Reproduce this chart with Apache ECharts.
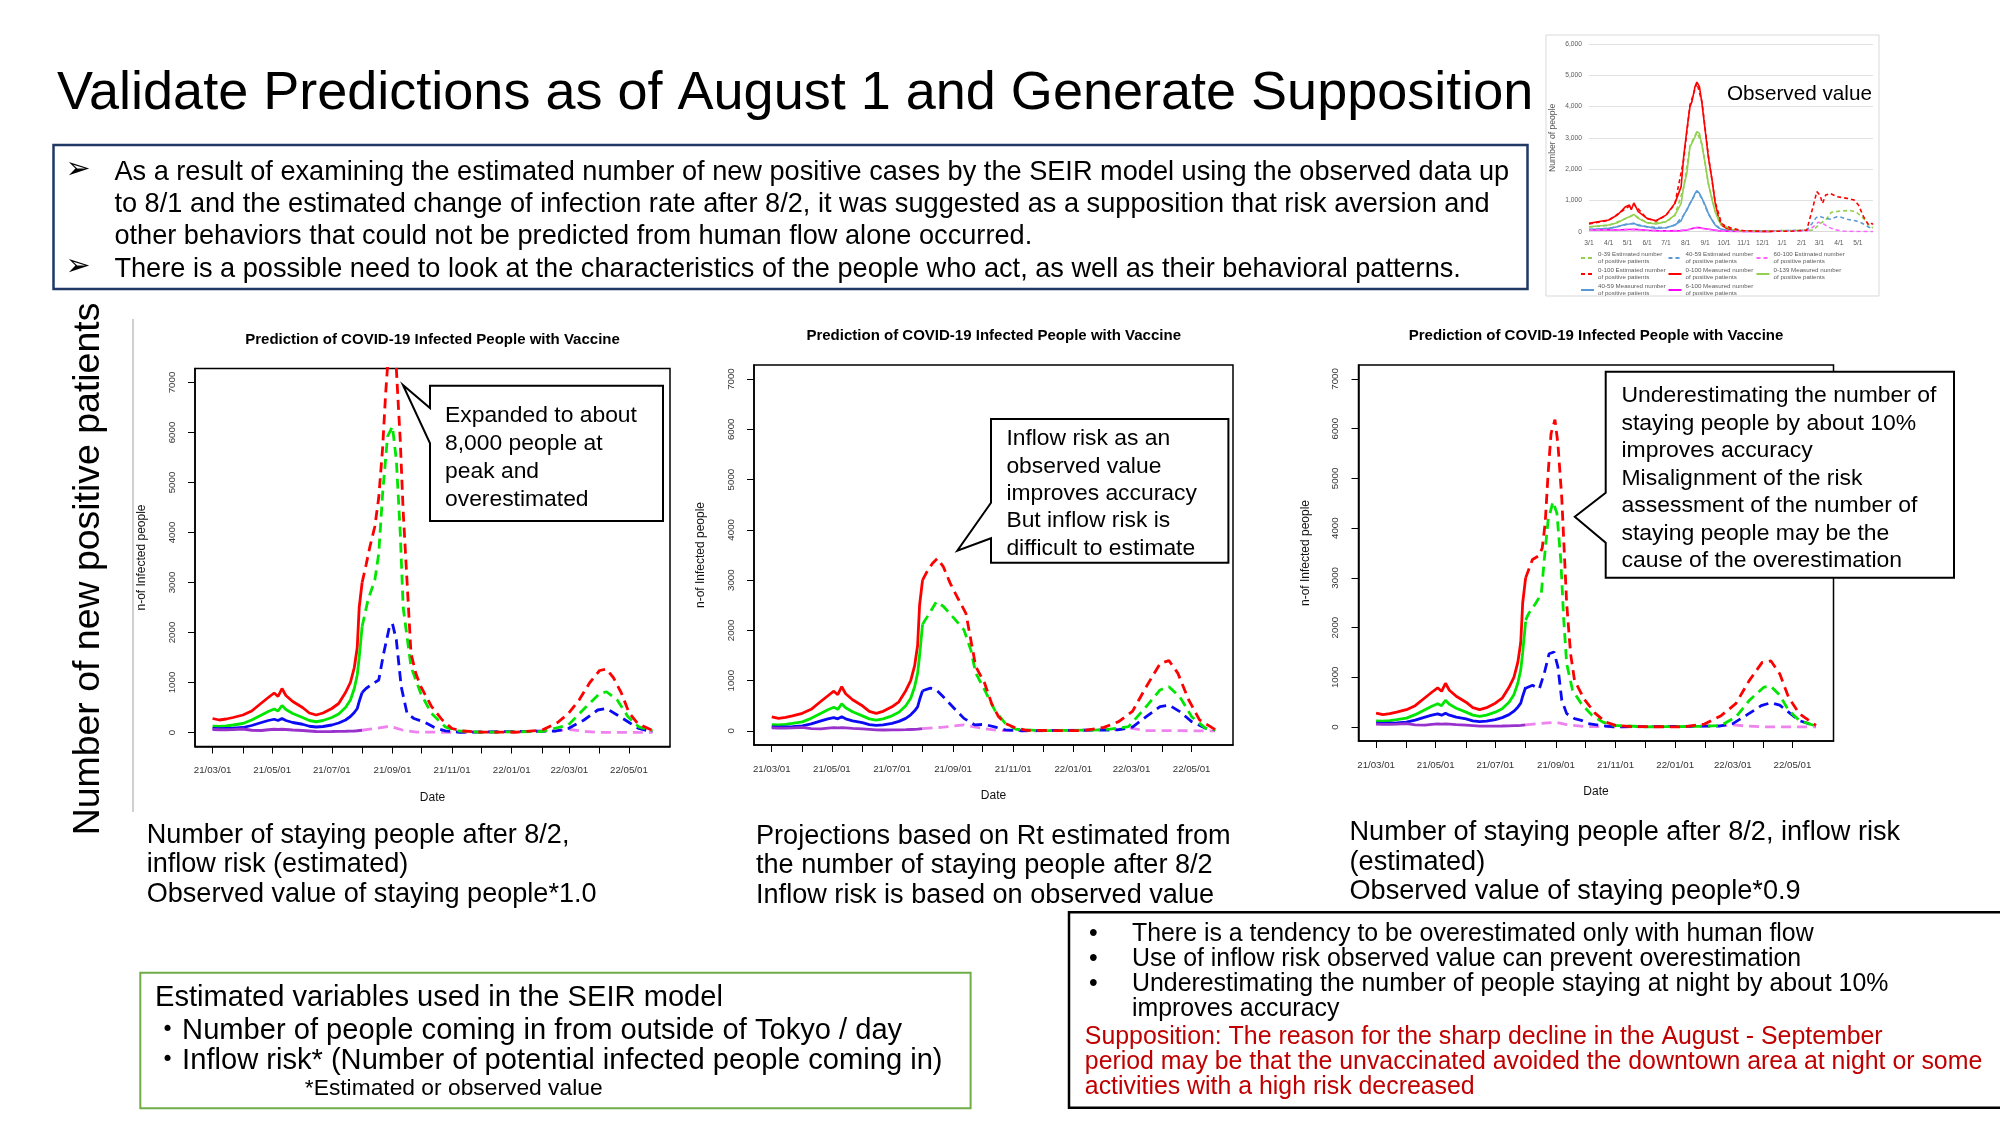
<!DOCTYPE html>
<html><head><meta charset="utf-8">
<script src="https://cdn.jsdelivr.net/npm/echarts@6/dist/echarts.min.js"></script>
<style>html,body{margin:0;padding:0;background:#fff}#c{width:2000px;height:1125px}</style>
</head><body><div id="c"></div>
<script>
const FONT = '"Liberation Sans", Arial, Helvetica, sans-serif';

// ---------------- DATA ----------------
const monthTicks = ['2021-03-01','2021-04-01','2021-05-01','2021-06-01','2021-07-01','2021-08-01','2021-09-01','2021-10-01','2021-11-01','2021-12-01','2022-01-01','2022-02-01','2022-03-01','2022-04-01','2022-05-01'];
const dateLabelTicks = ['2021-03-01','2021-05-01','2021-07-01','2021-09-01','2021-11-01','2022-01-01','2022-03-01','2022-05-01'];
const yTicks = [0,1000,2000,3000,4000,5000,6000,7000];

// observed (common to the three prediction charts)
const obsDates = ['2021-03-01','2021-03-08','2021-03-15','2021-03-22','2021-04-01','2021-04-10','2021-04-20','2021-04-27','2021-05-03','2021-05-07','2021-05-11','2021-05-15','2021-05-22','2021-06-01','2021-06-08','2021-06-15','2021-06-22','2021-07-01','2021-07-08','2021-07-15','2021-07-20','2021-07-24','2021-07-27','2021-07-29','2021-08-01'];
const obsTotal    = [280,250,270,300,350,430,590,700,790,720,880,740,620,500,390,350,390,480,580,800,1000,1300,1700,2500,3000];
const obs0to39    = [125,120,130,150,180,250,350,420,470,430,540,460,380,300,240,215,240,300,370,500,650,880,1150,1500,2120];
const obs40to59   = [80,75,80,85,100,140,200,240,265,240,280,240,200,165,125,110,120,150,190,250,320,400,480,620,800];
const obs60to100  = [60,55,55,60,70,45,40,55,65,60,65,60,50,40,30,20,18,20,22,25,28,30,35,40,45];

// chart 1: staying people *1.0, inflow risk estimated
const c1EstTotal = [['2021-08-01',3000],['2021-08-05',3350],['2021-08-09',3720],['2021-08-14',4120],['2021-08-18',4700],['2021-08-22',5700],['2021-08-25',6760],['2021-08-28',7600],['2021-09-01',8000],['2021-09-05',7280],['2021-09-09',5840],['2021-09-12',4420],['2021-09-16',3000],['2021-09-20',1580],['2021-09-25',1180],['2021-09-30',920],['2021-10-11',520],['2021-10-22',250],['2021-11-01',80],['2021-11-12',30],['2021-11-30',10],['2022-01-05',5],['2022-02-01',45],['2022-02-17',200],['2022-02-28',380],['2022-03-11',650],['2022-03-22',1000],['2022-04-01',1240],['2022-04-08',1270],['2022-04-15',1100],['2022-04-23',800],['2022-05-01',400],['2022-05-10',180],['2022-05-25',40]];
const c1Est0to39 = [['2021-08-01',2120],['2021-08-07',2650],['2021-08-14',3050],['2021-08-18',3580],['2021-08-22',4790],['2021-08-27',5920],['2021-09-01',6120],['2021-09-05',5450],['2021-09-09',3990],['2021-09-12',2500],['2021-09-20',1315],['2021-09-30',780],['2021-10-11',380],['2021-10-25',113],['2021-11-05',33],['2021-12-01',5],['2022-02-01',20],['2022-02-28',150],['2022-03-18',510],['2022-04-01',780],['2022-04-08',815],['2022-04-19',650],['2022-04-30',315],['2022-05-11',113],['2022-05-25',33]];
const c1Est40to59 = [['2021-08-01',800],['2021-08-05',880],['2021-08-10',950],['2021-08-18',1050],['2021-08-23',1580],['2021-08-29',2120],['2021-09-01',2180],['2021-09-05',1850],['2021-09-10',915],['2021-09-16',380],['2021-09-23',280],['2021-10-03',215],['2021-10-14',100],['2021-10-25',33],['2021-11-10',5],['2022-02-15',30],['2022-02-28',80],['2022-03-16',250],['2022-03-30',450],['2022-04-08',480],['2022-04-19',350],['2022-04-30',215],['2022-05-11',80],['2022-05-25',10]];
const c1Est60to100 = [['2021-08-01',45],['2021-08-14',80],['2021-08-29',125],['2021-09-12',45],['2021-09-26',7],['2021-12-01',2],['2022-02-15',30],['2022-03-01',60],['2022-03-18',20],['2022-04-01',2],['2022-05-25',1]];

// chart 2: Rt from staying people, inflow risk observed
const c2EstTotal = [['2021-08-01',3000],['2021-08-05',3150],['2021-08-11',3330],['2021-08-16',3430],['2021-08-22',3270],['2021-08-29',2940],['2021-09-05',2670],['2021-09-14',2340],['2021-09-19',1810],['2021-09-24',1280],['2021-10-03',950],['2021-10-10',550],['2021-10-17',285],['2021-10-24',150],['2021-11-04',55],['2021-11-15',10],['2022-01-10',5],['2022-02-01',70],['2022-02-16',185],['2022-03-02',390],['2022-03-16',880],['2022-03-30',1340],['2022-04-08',1400],['2022-04-17',1150],['2022-04-28',620],['2022-05-09',220],['2022-05-25',25]];
const c2Est0to39 = [['2021-08-01',2120],['2021-08-08',2340],['2021-08-15',2570],['2021-08-22',2480],['2021-09-02',2240],['2021-09-12',2010],['2021-09-19',1610],['2021-09-24',1150],['2021-10-03',815],['2021-10-14',385],['2021-10-24',150],['2021-11-04',33],['2021-12-01',5],['2022-02-01',20],['2022-02-26',85],['2022-03-16',485],['2022-03-30',815],['2022-04-08',880],['2022-04-19',680],['2022-05-01',285],['2022-05-15',55],['2022-05-25',20]];
const c2Est40to59 = [['2021-08-01',800],['2021-08-09',850],['2021-08-15',815],['2021-08-22',680],['2021-09-02',450],['2021-09-12',250],['2021-09-23',120],['2021-10-03',130],['2021-10-14',75],['2021-10-24',20],['2021-11-10',3],['2022-02-15',20],['2022-03-02',75],['2022-03-16',285],['2022-03-30',485],['2022-04-08',515],['2022-04-19',385],['2022-05-01',185],['2022-05-15',55],['2022-05-25',20]];
const c2Est60to100 = [['2021-08-01',45],['2021-08-22',75],['2021-09-12',120],['2021-09-30',55],['2021-10-17',7],['2021-12-01',2],['2022-02-15',30],['2022-02-28',55],['2022-03-16',7],['2022-05-25',1]];

// chart 3: staying people *0.9, inflow risk estimated
const c3EstTotal = [['2021-08-01',3000],['2021-08-08',3370],['2021-08-15',3450],['2021-08-18',3600],['2021-08-21',4100],['2021-08-24',5100],['2021-08-27',5900],['2021-08-31',6180],['2021-09-03',5700],['2021-09-07',4600],['2021-09-12',2480],['2021-09-16',1475],['2021-09-20',940],['2021-09-30',560],['2021-10-11',280],['2021-10-22',100],['2021-11-01',35],['2021-11-20',8],['2022-01-10',5],['2022-01-31',60],['2022-02-17',230],['2022-03-04',470],['2022-03-18',940],['2022-03-31',1300],['2022-04-09',1330],['2022-04-18',1070],['2022-04-27',600],['2022-05-08',270],['2022-05-25',35]];
const c3Est0to39 = [['2021-08-01',2150],['2021-08-04',2280],['2021-08-11',2480],['2021-08-17',2680],['2021-08-20',3350],['2021-08-24',4160],['2021-08-29',4530],['2021-09-02',4300],['2021-09-06',3350],['2021-09-09',2150],['2021-09-12',1275],['2021-09-18',740],['2021-09-27',470],['2021-10-08',235],['2021-10-19',100],['2021-10-30',35],['2021-12-01',5],['2022-02-01',15],['2022-02-17',35],['2022-03-04',200],['2022-03-18',540],['2022-04-02',805],['2022-04-09',820],['2022-04-18',640],['2022-04-27',335],['2022-05-08',135],['2022-05-25',20]];
const c3Est40to59 = [['2021-08-01',780],['2021-08-08',840],['2021-08-15',770],['2021-08-20',1075],['2021-08-25',1475],['2021-08-30',1510],['2021-09-03',1210],['2021-09-07',540],['2021-09-12',270],['2021-09-20',170],['2021-09-27',135],['2021-10-04',70],['2021-10-15',35],['2021-10-30',5],['2022-02-15',20],['2022-03-01',70],['2022-03-15',240],['2022-03-30',430],['2022-04-09',490],['2022-04-18',440],['2022-04-27',300],['2022-05-08',130],['2022-05-25',20]];
const c3Est60to100 = [['2021-08-01',45],['2021-08-20',80],['2021-09-01',95],['2021-09-12',50],['2021-10-01',10],['2021-12-01',2],['2022-02-15',25],['2022-03-01',45],['2022-03-15',20],['2022-04-01',5],['2022-05-25',2]];

// small "Observed value" chart
const smallYTicks = [0,1000,2000,3000,4000,5000,6000];
const smallMeasDates = ['2021-03-01','2021-03-15','2021-04-01','2021-04-15','2021-04-28','2021-05-04','2021-05-07','2021-05-11','2021-05-18','2021-06-01','2021-06-15','2021-07-01','2021-07-15','2021-07-25','2021-07-29','2021-08-03','2021-08-08','2021-08-11','2021-08-14','2021-08-16','2021-08-19','2021-08-23','2021-08-27','2021-09-01','2021-09-06','2021-09-12','2021-09-17','2021-09-22','2021-09-27','2021-10-05','2021-10-15','2021-10-26','2021-11-15','2021-12-15'];
const smallMeasTotal   = [266,320,373,533,800,850,700,920,640,426,350,530,906,1440,2400,3250,4000,4150,4100,4640,4780,4640,4100,3250,2400,1650,906,480,213,107,53,25,15,10];
const smallMeas0to39   = [160,180,213,288,426,480,426,554,426,288,245,320,533,906,1440,1865,2720,2820,2820,3040,3200,3145,2770,2185,1545,1012,640,373,213,107,53,30,15,8];
const smallMeas40to59  = [75,85,107,160,235,245,224,267,200,160,107,128,213,350,533,690,906,1012,1120,1225,1310,1225,1066,853,586,373,213,128,75,43,21,15,8,5];
const smallMeas60to100 = [53,55,60,55,65,70,68,75,65,45,35,25,25,35,45,55,80,100,115,125,135,130,110,95,80,60,45,30,20,12,8,5,3,2];
const smallEstTotal = [['2021-03-01',250],['2021-04-01',360],['2021-05-01',780],['2021-05-11',880],['2021-06-01',420],['2021-06-15',340],['2021-07-01',520],['2021-07-15',880],['2021-07-29',2300],['2021-08-08',4050],['2021-08-19',4750],['2021-08-27',4150],['2021-09-06',2450],['2021-09-17',950],['2021-09-27',260],['2021-10-05',170],['2021-10-15',100],['2021-11-01',30],['2021-12-01',10],['2022-01-15',15],['2022-02-09',50],['2022-02-19',800],['2022-02-25',1280],['2022-03-02',1170],['2022-03-06',906],['2022-03-11',1170],['2022-03-18',1225],['2022-03-29',1120],['2022-04-14',1066],['2022-04-25',1013],['2022-05-02',853],['2022-05-10',480],['2022-05-18',213],['2022-05-23',267],['2022-05-25',230]];
const smallEst0to39 = [['2021-03-01',150],['2021-04-01',200],['2021-05-01',440],['2021-05-11',540],['2021-06-01',280],['2021-07-01',310],['2021-07-15',520],['2021-07-29',1400],['2021-08-08',2750],['2021-08-19',3180],['2021-08-27',2800],['2021-09-06',1550],['2021-09-17',650],['2021-09-27',220],['2021-10-15',60],['2021-11-01',15],['2022-02-19',50],['2022-03-02',250],['2022-03-12',400],['2022-03-20',620],['2022-04-03',660],['2022-04-19',680],['2022-04-29',620],['2022-05-10',420],['2022-05-20',180],['2022-05-25',120]];
const smallEst40to59 = [['2021-03-01',70],['2021-04-01',100],['2021-05-01',240],['2021-05-11',260],['2021-06-01',155],['2021-07-01',125],['2021-07-15',210],['2021-07-29',520],['2021-08-08',900],['2021-08-19',1300],['2021-08-27',1060],['2021-09-06',580],['2021-09-17',210],['2021-09-27',75],['2021-10-15',20],['2021-11-01',8],['2022-02-09',50],['2022-02-17',250],['2022-02-24',450],['2022-03-01',500],['2022-03-07',450],['2022-03-18',400],['2022-03-29',480],['2022-04-03',470],['2022-04-14',400],['2022-04-27',350],['2022-05-07',280],['2022-05-18',150],['2022-05-25',90]];
const smallEst60to100 = [['2021-03-01',50],['2021-05-01',70],['2021-06-01',45],['2021-07-01',25],['2021-08-01',50],['2021-08-19',130],['2021-09-06',80],['2021-09-27',20],['2021-11-01',3],['2022-02-09',20],['2022-02-19',150],['2022-02-27',300],['2022-03-06',270],['2022-03-15',150],['2022-03-26',60],['2022-04-08',20],['2022-04-29',5],['2022-05-25',3]];
const smallLegendNames = ['0-39 Estimated number of positive patients','40-59 Estimated number of positive patients','60-100 Estimated number of positive patients','0-100 Estimated number of positive patients','0-100 Measured number of positive patients','0-139 Measured number of positive patients','40-59 Measured number of positive patients','6-100 Measured number of positive patients'];

// ---------------- helpers ----------------
const BASE = Date.UTC(2021, 2, 1);
function day(s){ const p = s.split('-').map(Number); return (Date.UTC(p[0], p[1]-1, p[2]) - BASE) / 86400000; }
function fromDay(v){ return new Date(BASE + Math.round(v) * 86400000); }
function pad(n){ return (n < 10 ? '0' : '') + n; }
function fmtMain(v){ const d = fromDay(v); return pad(d.getUTCFullYear() % 100) + '/' + pad(d.getUTCMonth()+1) + '/' + pad(d.getUTCDate()); }
function fmtSmall(v){ const d = fromDay(v); return (d.getUTCMonth()+1) + '/' + d.getUTCDate(); }
const pairs = arr => arr.map(p => [day(p[0]), p[1]]);
const zipObs = (dates, vals) => dates.map((d, i) => [day(d), vals[i]]);

const cv = document.createElement('canvas').getContext('2d');
function fit(text, target, weight, family){
  cv.font = (weight || 'normal') + ' 100px ' + (family || FONT);
  return 100 * target / cv.measureText(text).width;
}

const monthDays = monthTicks.map(day);
const labelDays = dateLabelTicks.map(day);

// ---------------- layout ----------------
const grids = [
  {left: 195, top: 368.5, width: 475, height: 378},
  {left: 754, top: 365, width: 479, height: 380},
  {left: 1358.5, top: 365, width: 475, height: 376},
  {left: 1589, top: 44, width: 284, height: 187.7}
];

function mainX(gi){
  return {gridIndex: gi, type: 'value', min: -18, max: 468,
    axisLine: {show: true, onZero: false, lineStyle: {color: '#000', width: 1.5}},
    axisTick: {show: true, inside: false, length: 7, customValues: monthDays, lineStyle: {color: '#000', width: 1}},
    axisLabel: {customValues: labelDays, formatter: fmtMain, fontSize: 9.7, color: '#333', margin: 19, fontFamily: FONT},
    splitLine: {show: false},
    name: 'Date', nameLocation: 'middle', nameGap: 45,
    nameTextStyle: {fontSize: 12, color: '#111', fontFamily: FONT}};
}
function mainY(gi){
  return {gridIndex: gi, type: 'value', min: -280, max: 7280,
    axisLine: {show: true, onZero: false, lineStyle: {color: '#000', width: 1.5}},
    axisTick: {show: true, inside: false, length: 7, customValues: yTicks, lineStyle: {color: '#000', width: 1}},
    axisLabel: {customValues: yTicks, formatter: v => String(v), rotate: 90, margin: 18, fontSize: 9.7, color: '#333', fontFamily: FONT},
    splitLine: {show: false},
    name: 'n-of Infected people', nameLocation: 'middle', nameGap: 47, nameRotate: 90,
    nameTextStyle: {fontSize: 12, color: '#111', fontFamily: FONT}};
}

const COL = {red: '#FF0000', green: '#00E600', blue: '#0A0AF5', purple: '#9932CC', violet: '#EE82EE'};
function ln(name, data, gi, color, width, dash, z){
  return {name, type: 'line', xAxisIndex: gi, yAxisIndex: gi, data, symbol: 'none', showSymbol: false,
    silent: true, animation: false, z: z || 2, clip: true,
    lineStyle: {color, width, type: dash || 'solid'}, itemStyle: {color}};
}

const series = [];
const estSets = [
  [c1EstTotal, c1Est0to39, c1Est40to59, c1Est60to100],
  [c2EstTotal, c2Est0to39, c2Est40to59, c2Est60to100],
  [c3EstTotal, c3Est0to39, c3Est40to59, c3Est60to100]
];
const DASH = [10, 6];
for (let g = 0; g < 3; g++){
  series.push(ln('c'+g+'-obs-total', zipObs(obsDates, obsTotal), g, COL.red, 2.8));
  series.push(ln('c'+g+'-obs-0-39', zipObs(obsDates, obs0to39), g, COL.green, 2.8));
  series.push(ln('c'+g+'-obs-40-59', zipObs(obsDates, obs40to59), g, COL.blue, 2.8));
  series.push(ln('c'+g+'-obs-60-100', zipObs(obsDates, obs60to100), g, COL.purple, 2.8));
  const e = estSets[g];
  series.push(ln('c'+g+'-est-60-100', pairs(e[3]), g, COL.violet, 2.8, DASH, 3));
  series.push(ln('c'+g+'-est-40-59', pairs(e[2]), g, COL.blue, 2.8, DASH, 3));
  series.push(ln('c'+g+'-est-0-39', pairs(e[1]), g, COL.green, 2.8, DASH, 3));
  series.push(ln('c'+g+'-est-total', pairs(e[0]), g, COL.red, 2.8, DASH, 3));
}
// small chart
const SC = {green: '#92D050', blue: '#5B9BD5', pink: '#FF66FF', red: '#FF0000', magenta: '#FF00FF'};
const SD = [4, 3];
series.push(ln(smallLegendNames[6], zipObs(smallMeasDates, smallMeas40to59), 3, SC.blue, 1.6));
series.push(ln(smallLegendNames[7], zipObs(smallMeasDates, smallMeas60to100), 3, SC.magenta, 1.6));
series.push(ln(smallLegendNames[5], zipObs(smallMeasDates, smallMeas0to39), 3, SC.green, 1.6));
series.push(ln(smallLegendNames[4], zipObs(smallMeasDates, smallMeasTotal), 3, SC.red, 1.6));
series.push(ln(smallLegendNames[0], pairs(smallEst0to39), 3, SC.green, 1.6, SD, 3));
series.push(ln(smallLegendNames[1], pairs(smallEst40to59), 3, SC.blue, 1.6, SD, 3));
series.push(ln(smallLegendNames[2], pairs(smallEst60to100), 3, SC.pink, 1.6, SD, 3));
series.push(ln(smallLegendNames[3], pairs(smallEstTotal), 3, SC.red, 1.6, SD, 3));

// legends for the small chart (3 x 3 layout)
const legPos = [[1580,251.4],[1667.5,251.4],[1755.5,251.4],[1580,267.4],[1667.5,267.4],[1755.5,267.4],[1580,283.4],[1667.5,283.4]];
const legends = smallLegendNames.map((n, i) => ({
  data: [n], left: legPos[i][0], top: legPos[i][1], padding: 0, itemWidth: 13, itemHeight: 6, itemGap: 0,
  selectedMode: false, formatter: s => s.replace(' of positive', '\nof positive'),
  itemStyle: {opacity: 0},
  textStyle: {fontSize: 6.2, lineHeight: 6.6, color: '#595959', fontFamily: FONT, padding: [0,0,0,-1]}
}));

// ---------------- slide graphics ----------------
const G = [];
const DY = 2.5; // visual centring of text lines
function T(x, y, text, size, o){
  o = o || {};
  const rot = o.rotation || 0;
  G.push({type: 'text', x: rot ? x : x, y: rot ? y : y + DY, rotation: rot, z: o.z || 60, silent: true,
    style: {text, x: 0, y: 0, fill: o.color || '#000', fontSize: size, fontFamily: o.family || FONT,
      fontWeight: o.weight || 'normal', textAlign: o.align || 'left', align: o.align || 'left',
      textVerticalAlign: 'middle', verticalAlign: 'middle'}});
}
function L(x, y0, lh, lines, size, o){ lines.forEach((s, i) => T(x, y0 + i*lh, s, size, o)); }
function rect(x, y, w, h, stroke, lw, z, fill){
  G.push({type: 'rect', z: z || 40, silent: true, shape: {x, y, width: w, height: h},
    style: {fill: fill || 'none', stroke, lineWidth: lw}});
}
function poly(points, z){
  G.push({type: 'polygon', z: z || 50, silent: true, shape: {points},
    style: {fill: '#fff', stroke: '#000', lineWidth: 2}});
}

// Title
const titleText = 'Validate Predictions as of August 1 and Generate Supposition';
T(57, 92, titleText, fit(titleText, 1477));

// Blue summary box
rect(53.5, 145, 1474, 144, '#1F3864', 2.5);
const blue = ['As a result of examining the estimated number of new positive cases by the SEIR model using the observed data up',
  'to 8/1 and the estimated change of infection rate after 8/2, it was suggested as a supposition that risk aversion and',
  'other behaviors that could not be predicted from human flow alone occurred.',
  'There is a possible need to look at the characteristics of the people who act, as well as their behavioral patterns.'];
const blueSize = fit(blue[0], 1395);
L(114.4, 170, 32.2, blue, blueSize);
T(78, 168, '\u27A2', 30, {align: 'center', family: '"DejaVu Sans", sans-serif'});
T(78, 264.7, '\u27A2', 30, {align: 'center', family: '"DejaVu Sans", sans-serif'});

// Small chart frame + annotation
rect(1546, 35, 333, 261, '#d9d9d9', 1, 1);
T(1727, 92, 'Observed value', fit('Observed value', 145));

// Big vertical label and thin line
T(89, 569, 'Number of new positive patients', fit('Number of new positive patients', 533), {rotation: Math.PI/2, align: 'center'});
G.push({type: 'line', z: 1, silent: true, shape: {x1: 133, y1: 319, x2: 133, y2: 812}, style: {stroke: '#c0c0c0', lineWidth: 1.5}});

// Chart titles
const ct = 'Prediction of COVID-19 Infected People with Vaccine';
const ctSize = fit(ct, 375, 'bold');
T(432.5, 337, ct, ctSize, {align: 'center', weight: 'bold'});
T(993.7, 333, ct, ctSize, {align: 'center', weight: 'bold'});
T(1596, 333, ct, ctSize, {align: 'center', weight: 'bold'});

// Callouts
poly([[430,385.7],[663,385.7],[663,521],[430,521],[430,443.3],[402.9,385],[430,408]]);
L(445, 413.3, 27.8, ['Expanded to about','8,000 people at','peak and','overestimated'], fit('Expanded to about', 192));
poly([[991,419],[1228.4,419],[1228.4,562.7],[991,562.7],[991,538.3],[957.3,550.7],[991,502.7]]);
L(1006.4, 436.7, 27.3, ['Inflow risk as an','observed value','improves accuracy','But inflow risk is','difficult to estimate'], fit('improves accuracy', 190.5));
poly([[1605.7,371.7],[1954,371.7],[1954,577.7],[1605.7,577.7],[1605.7,542.7],[1574.8,516.7],[1605.7,492.7]]);
L(1621.5, 393.3, 27.5, ['Underestimating the number of','staying people by about 10%','improves accuracy','Misalignment of the risk','assessment of the number of','staying people may be the','cause of the overestimation'], fit('Underestimating the number of', 315));

// Captions
L(146.7, 833, 29.3, ['Number of staying people after 8/2,','inflow risk (estimated)','Observed value of staying people*1.0'], fit('Observed value of staying people*1.0', 450));
L(756, 834, 29.3, ['Projections based on Rt estimated from','the number of staying people after 8/2','Inflow risk is based on observed value'], fit('Projections based on Rt estimated from', 475));
L(1349.5, 830.5, 29.3, ['Number of staying people after 8/2, inflow risk','(estimated)','Observed value of staying people*0.9'], fit('Number of staying people after 8/2, inflow risk', 551));

// Green box
rect(140.3, 972.7, 830.3, 135.6, '#70AD47', 2);
const gSize = fit('Estimated variables used in the SEIR model', 568);
T(155, 995, 'Estimated variables used in the SEIR model', gSize);
T(153, 1028.3, '\u30FBNumber of people coming in from outside of Tokyo / day', gSize, {family: FONT + ', "Noto Sans CJK JP"'});
T(153, 1058.3, '\u30FBInflow risk* (Number of potential infected people coming in)', gSize, {family: FONT + ', "Noto Sans CJK JP"'});
T(304.8, 1086.7, '*Estimated or observed value', fit('*Estimated or observed value', 298));

// Black conclusions box
rect(1069, 912.3, 960, 195.4, '#000', 2.5);
const redLines = ['Supposition: The reason for the sharp decline in the August - September',
  'period may be that the unvaccinated avoided the downtown area at night or some',
  'activities with a high risk decreased'];
const bSize = fit(redLines[1], 898);
L(1132, 932, 25, ['There is a tendency to be overestimated only with human flow','Use of inflow risk observed value can prevent overestimation','Underestimating the number of people staying at night by about 10%','improves accuracy'], bSize);
[932, 957, 982].forEach(y => T(1089, y, '\u2022', bSize));
L(1084.8, 1034.5, 25, redLines, bSize, {color: '#C00000'});

// ---------------- chart ----------------
const chart = echarts.init(document.getElementById('c'), null, {renderer: 'canvas', width: 2000, height: 1125});
chart.setOption({
  animation: false,
  backgroundColor: '#fff',
  textStyle: {fontFamily: FONT},
  grid: grids.map((g, i) => Object.assign({containLabel: false, show: i < 3, borderColor: '#000', borderWidth: 1.5, backgroundColor: 'transparent'}, g)),
  xAxis: [mainX(0), mainX(1), mainX(2), {
    gridIndex: 3, type: 'value', min: 0, max: 450,
    axisLine: {show: true, onZero: false, lineStyle: {color: '#d9d9d9', width: 1}},
    axisTick: {show: false},
    axisLabel: {customValues: monthDays, formatter: fmtSmall, fontSize: 6.7, color: '#595959', margin: 8, fontFamily: FONT},
    splitLine: {show: false}
  }],
  yAxis: [mainY(0), mainY(1), mainY(2), {
    gridIndex: 3, type: 'value', min: 0, max: 6000, interval: 1000,
    axisLine: {show: false}, axisTick: {show: false},
    axisLabel: {formatter: v => v.toLocaleString('en-US'), fontSize: 6.7, color: '#595959', margin: 7, fontFamily: FONT},
    splitLine: {show: true, lineStyle: {color: '#d9d9d9', width: 0.8}},
    name: 'Number of people', nameLocation: 'middle', nameGap: 31.5, nameRotate: 90,
    nameTextStyle: {fontSize: 8.6, color: '#595959', fontFamily: FONT}
  }],
  legend: legends,
  series,
  graphic: {elements: G}
});
</script>
</body></html>
